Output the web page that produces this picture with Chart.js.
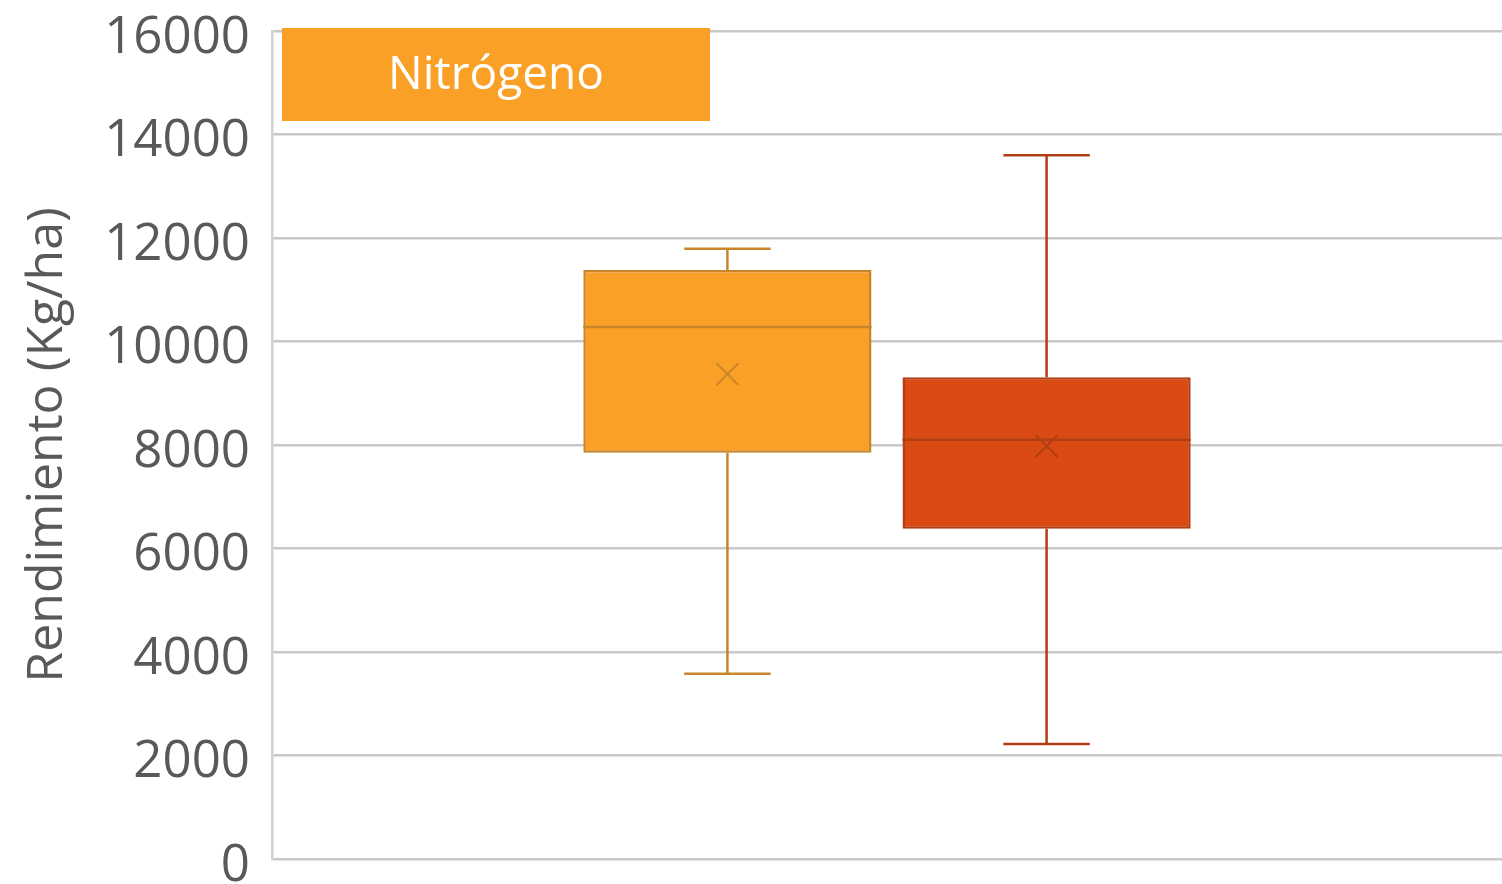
<!DOCTYPE html>
<html>
<head>
<meta charset="utf-8">
<script src="https://cdn.jsdelivr.net/npm/chart.js"></script>
<style>
  html, body { margin: 0; padding: 0; background: #fff; overflow: hidden; }
  #wrap { position: relative; width: 1502px; height: 884px; }
</style>
</head>
<body>
<div id="wrap"><canvas id="grafica" width="1502" height="884"></canvas></div>
<script>
// datos
const categorias = [""];
const series = ["Nitrógeno", "Testigo"];
const minimos = [3580, 2220];
const cuartil1 = [7850, 6380];
const medianas = [10280, 8100];
const cuartil3 = [11380, 9310];
const maximos = [11790, 13600];
const medias = [9370, 7980];
const ticksY = [0, 2000, 4000, 6000, 8000, 10000, 12000, 14000, 16000];

const rellenos = ["#fba026", "#da4b14"];
const bordes = ["#c9852a", "#b23e14"];

// bigotes, mediana y media
const cajaPlugin = {
  id: "cajas",
  beforeDatasetsDraw(chart) {
    const ctx = chart.ctx;
    const y = chart.scales.y;
    chart.data.datasets.forEach((ds, i) => {
      const bar = chart.getDatasetMeta(i).data[0];
      const cx = bar.x;
      const tapa = bar.width * 0.3 / 2;
      ctx.save();
      ctx.strokeStyle = bordes[i];
      ctx.lineWidth = 2.5;
      ctx.beginPath();
      ctx.moveTo(cx, y.getPixelForValue(cuartil3[i]));
      ctx.lineTo(cx, y.getPixelForValue(maximos[i]));
      ctx.moveTo(cx - tapa, y.getPixelForValue(maximos[i]));
      ctx.lineTo(cx + tapa, y.getPixelForValue(maximos[i]));
      ctx.moveTo(cx, y.getPixelForValue(cuartil1[i]));
      ctx.lineTo(cx, y.getPixelForValue(minimos[i]));
      ctx.moveTo(cx - tapa, y.getPixelForValue(minimos[i]));
      ctx.lineTo(cx + tapa, y.getPixelForValue(minimos[i]));
      ctx.stroke();
      ctx.restore();
    });
  },
  afterDatasetsDraw(chart) {
    const ctx = chart.ctx;
    const y = chart.scales.y;
    chart.data.datasets.forEach((ds, i) => {
      const bar = chart.getDatasetMeta(i).data[0];
      const cx = bar.x;
      const w = bar.width / 2;
      ctx.save();
      ctx.strokeStyle = bordes[i];
      ctx.lineWidth = 2.5;
      const ym = y.getPixelForValue(medianas[i]);
      ctx.beginPath();
      ctx.moveTo(cx - w, ym);
      ctx.lineTo(cx + w, ym);
      ctx.stroke();
      // x de la media
      const yx = y.getPixelForValue(medias[i]);
      const s = 11;
      ctx.lineWidth = 2;
      ctx.beginPath();
      ctx.moveTo(cx - s, yx - s);
      ctx.lineTo(cx + s, yx + s);
      ctx.moveTo(cx + s, yx - s);
      ctx.lineTo(cx - s, yx + s);
      ctx.stroke();
      ctx.restore();
    });
  },
  afterDraw(chart) {
    // etiqueta de la serie (recortada en el original)
    const ctx = chart.ctx;
    ctx.save();
    ctx.fillStyle = rellenos[0];
    ctx.fillRect(282, 28, 428, 93);
    ctx.fillStyle = "#ffffff";
    ctx.font = "46px 'Open Sans'";
    ctx.textAlign = "center";
    ctx.textBaseline = "middle";
    ctx.fillText(series[0], 496, 76);
    ctx.restore();
  }
};

const datasets = series.map((nombre, i) => ({
  label: nombre,
  data: [[cuartil1[i], cuartil3[i]]],
  backgroundColor: rellenos[i],
  borderColor: bordes[i],
  borderWidth: 2.5,
  borderSkipped: false
}));

new Chart(document.getElementById("grafica"), {
  type: "bar",
  data: { labels: categorias, datasets: datasets },
  plugins: [cajaPlugin],
  options: {
    responsive: false,
    animation: false,
    devicePixelRatio: 1,
    barPercentage: 0.903,
    categoryPercentage: 0.519,
    layout: { padding: { top: 31, bottom: 25, right: 0, left: 0 } },
    plugins: { legend: { display: false }, tooltip: { enabled: false } },
    scales: {
      x: {
        ticks: { display: false },
        grid: { display: false },
        border: { display: false },
        afterFit(scale) { scale.height = 0; }
      },
      y: {
        min: 0,
        max: 16000,
        afterBuildTicks(scale) { scale.ticks = ticksY.map(v => ({ value: v })); },
        afterFit(scale) {
          scale.width = 272;
          scale.paddingTop = 0;
          scale.paddingBottom = 0;
        },
        ticks: {
          color: "#595959",
          font: { family: "'Open Sans'", size: 51 },
          padding: 22,
          labelOffset: 7,
          autoSkip: false,
          callback: v => String(v)
        },
        grid: { color: "#c8c8c8", lineWidth: 2.5, drawTicks: false },
        border: { color: "#d0d0d0", width: 2.5 },
        title: {
          display: true,
          text: "Rendimiento (Kg/ha)",
          color: "#595959",
          font: { family: "'Open Sans'", size: 50 },
          padding: { top: 18, bottom: 0 }
        }
      }
    }
  }
});
</script>
</body>
</html>
